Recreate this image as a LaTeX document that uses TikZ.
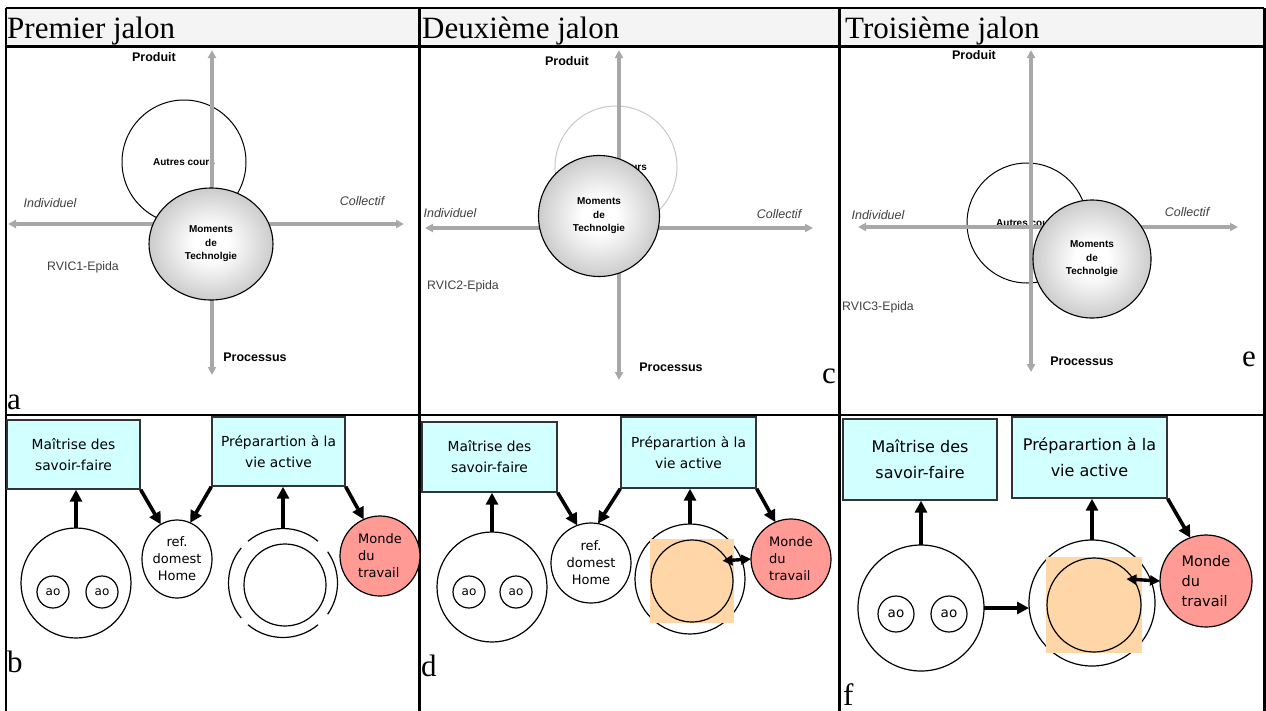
\documentclass[tikz,border=0pt]{standalone}
\usepackage{fontspec}
\setmainfont{Liberation Serif}
\setsansfont{Liberation Sans}
\newfontfamily\genevafont{DejaVu Sans}
\usetikzlibrary{arrows.meta,shapes.geometric,calc}
\definecolor{hdrF}{HTML}{F4F4F4}
\definecolor{axeG}{HTML}{A8A8A8}
\definecolor{boxF}{HTML}{D2FFFF}
\definecolor{boxD}{HTML}{333333}
\definecolor{mondeR}{HTML}{FF9A94}
\definecolor{carreO}{HTML}{FFD6A8}
\definecolor{autreG}{HTML}{C8C8C8}
\definecolor{epidaT}{HTML}{404040}
\pgfdeclareradialshading{momentshade}{\pgfpoint{0bp}{0bp}}{color(0bp)=(white); color(7bp)=(white); color(34bp)=(black!30); color(50bp)=(black!30)}
\tikzset{
  grille/.style  = {line width=2.4pt},
  titre/.style   = {font=\fontsize{31}{36}\selectfont, anchor=base west, inner sep=0pt},
  axe/.style     = {axeG, line width=3.4pt,
                    {Triangle[length=8pt,width=8pt]}-{Triangle[length=8pt,width=8pt]}},
  pole/.style    = {font=\sffamily\bfseries\fontsize{12.5}{15}\selectfont, inner sep=0pt},
  cote/.style    = {font=\sffamily\itshape\fontsize{12.5}{15}\selectfont, text=epidaT, inner sep=0pt},
  epida/.style   = {font=\sffamily\fontsize{12.3}{15}\selectfont, text=epidaT, inner sep=0pt},
  autre/.style   = {circle, draw, fill=white, line width=1pt, inner sep=0pt,
                    font=\sffamily\bfseries\fontsize{10}{12}\selectfont},
  moment/.style  = {ellipse, draw, line width=1.1pt, shading=momentshade,
                    inner sep=0pt, align=center, font=\sffamily\bfseries\fontsize{10}{13.5}\selectfont},
  savoir/.style  = {rectangle, draw=boxD, fill=boxF, line width=1.4pt, inner sep=0pt,
                    align=center, font=\genevafont\fontsize{13.8}{21}\selectfont},
  rond/.style    = {circle, draw, line width=1.2pt, inner sep=0pt, outer sep=0pt},
  ao/.style      = {rond, font=\genevafont\fontsize{12}{14}\selectfont},
  domest/.style  = {ellipse, draw, line width=1.2pt, inner sep=0pt, outer sep=0pt,
                    align=center, font=\genevafont\fontsize{13}{17}\selectfont},
  monde/.style   = {rond, fill=mondeR, align=left, font=\genevafont\fontsize{13}{17}\selectfont},
  carre/.style   = {rectangle, fill=carreO, inner sep=0pt},
  fleche/.style  = {line width=3.6pt, -{Triangle[length=12pt,width=12pt]}},
  double/.style  = {line width=3.4pt, {Triangle[length=10pt,width=10pt]}-{Triangle[length=10pt,width=10pt]}},
}
\begin{document}
\begin{tikzpicture}[x=1pt, y=-1pt]
  \useasboundingbox (0,0) rectangle (1266,710);
  % table
  \fill[hdrF] (6,8) rectangle (1264,46.5);
  \draw[grille] (6,8) -- (1264,8);
  \draw[grille] (6,46.5) -- (1264,46.5);
  \draw[grille] (6,415) -- (1264,415);
  \draw[grille] (6,8) -- (6,712);
  \draw[grille] (419.5,8) -- (419.5,712);
  \draw[grille] (839.5,8) -- (839.5,712);
  \draw[grille] (1264.5,8) -- (1264.5,712);
  \node[titre] (jalonA) at (7,38) {Premier jalon};
  \node[titre] (jalonC) at (422,38) {Deuxième jalon};
  \node[titre] (jalonE) at (845,38) {Troisième jalon};

  % a
  \node[autre, minimum size=124pt] (autresA) at (184,162) {Autres cours};
  \coordinate (aN) at (212,50);  \coordinate (aS) at (212,375);
  \coordinate (aW) at (8,224);   \coordinate (aE) at (404,224);
  \draw[axe] (aS) -- (aN);
  \draw[axe] (aW) -- (aE);
  \node[moment, minimum width=124pt, minimum height=112pt] (momentsA) at (211,244) {Moments\\de\\Technolgie};
  \node[pole] (produitA) at (154,57) {Produit};
  \node[pole] (processusA) at (255,357) {Processus};
  \node[cote] (indivA) at (50,203) {Individuel};
  \node[cote] (collA) at (362,201) {Collectif};
  \node[epida] (rvicA) at (83,267) {RVIC1-Epida};
  \node[titre] (lettreA) at (7,409) {a};

  % c
  \node[autre, draw=autreG, minimum size=122pt] (autresC) at (616,167) {Autres cours};
  \coordinate (cN) at (619,50);  \coordinate (cS) at (619,380);
  \coordinate (cW) at (425,228); \coordinate (cE) at (813,228);
  \draw[axe] (cS) -- (cN);
  \draw[axe] (cW) -- (cE);
  \node[moment, minimum size=121pt] (momentsC) at (599,216) {Moments\\de\\Technolgie};
  \node[pole] (produitC) at (567,61) {Produit};
  \node[pole] (processusC) at (671,367) {Processus};
  \node[cote] (indivC) at (450,213) {Individuel};
  \node[cote] (collC) at (779,214) {Collectif};
  \node[epida] (rvicC) at (463,286) {RVIC2-Epida};
  \node[titre] (lettreC) at (822,383) {c};

  % e
  \node[autre, minimum size=120pt] (autresE) at (1027,223) {Autres cours};
  \coordinate (eN) at (1031,50);  \coordinate (eS) at (1031,372);
  \coordinate (eW) at (858,227);  \coordinate (eE) at (1238,227);
  \draw[axe] (eS) -- (eN);
  \draw[axe] (eW) -- (eE);
  \node[moment, minimum size=118pt] (momentsE) at (1092,259) {Moments\\de\\Technolgie};
  \node[pole] (produitE) at (974,55) {Produit};
  \node[pole] (processusE) at (1082,361) {Processus};
  \node[cote] (indivE) at (878,215) {Individuel};
  \node[cote] (collE) at (1187,212) {Collectif};
  \node[epida] (rvicE) at (878,307) {RVIC3-Epida};
  \node[titre] (lettreE) at (1242,366) {e};

  % b
  \node[savoir, minimum width=133pt, minimum height=69pt] (savoirB) at (73.5,454.5) {Maîtrise des\\savoir-faire};
  \node[savoir, minimum width=133pt, minimum height=69pt] (vieB) at (278.5,451.5) {Préparartion à la\\vie active};
  \node[rond, minimum size=110pt] (grandB) at (76,583) {};
  \node[ao, minimum size=32pt] (aoB1) at (53,592) {ao};
  \node[ao, minimum size=32pt] (aoB2) at (102,592) {ao};
  \node[domest, minimum width=70pt, minimum height=78pt] (refB) at (177,559) {ref.\\domest\\Home};
  \node[rond, draw=none, minimum size=109pt] (exterB) at (283,583) {};
  \draw[line width=1.2pt] (exterB.50) arc[start angle=50, end angle=130, radius=54.5pt];
  \draw[line width=1.2pt] (exterB.140) arc[start angle=140, end angle=220, radius=54.5pt];
  \draw[line width=1.2pt] (exterB.230) arc[start angle=230, end angle=310, radius=54.5pt];
  \draw[line width=1.2pt] (exterB.-35) arc[start angle=-35, end angle=35, radius=54.5pt];
  \node[rond, minimum size=82pt] (interB) at (285,585) {};
  \node[monde, minimum size=80pt] (mondeB) at (380,556) {Monde\\du\\travail};
  \draw[fleche] (grandB.north) -- (grandB.north |- savoirB.south);
  \draw[fleche] (savoirB.south east) -- (refB.115);
  \draw[fleche] (vieB.south west) -- (refB.70);
  \draw[fleche] (exterB.north) -- (exterB.north |- vieB.south);
  \draw[fleche] (vieB.south east) -- (mondeB.114);
  \node[titre] (lettreB) at (7,672) {b};

  % d
  \node[savoir, minimum width=135pt, minimum height=70pt] (savoirD) at (489.5,457) {Maîtrise des\\savoir-faire};
  \node[savoir, minimum width=135pt, minimum height=71pt] (vieD) at (688.5,452.5) {Préparartion à la\\vie active};
  \node[rond, minimum size=110pt] (grandD) at (492,587) {};
  \node[ao, minimum size=32pt] (aoD1) at (469,592) {ao};
  \node[ao, minimum size=32pt] (aoD2) at (516,592) {ao};
  \node[rond, align=center, font=\genevafont\fontsize{13}{17}\selectfont, minimum size=80pt] (refD) at (591,563) {ref.\\domest\\Home};
  \node[rond, minimum size=110pt] (exterD) at (690,579) {};
  \node[carre, minimum size=84pt] (carreD) at (692,581) {};
  \node[rond, minimum size=82pt] (interD) at (692,581) {};
  \node[monde, minimum size=80pt] (mondeD) at (791,559) {Monde\\du\\travail};
  \draw[fleche] (grandD.north) -- (grandD.north |- savoirD.south);
  \draw[fleche] (savoirD.south east) -- (refD.110);
  \draw[fleche] (vieD.south west) -- (refD.80);
  \draw[fleche] (exterD.north) -- (exterD.north |- vieD.south);
  \draw[fleche] (vieD.south east) -- (mondeD.113);
  \draw[double, shorten <=-5pt] (interD.30) -- (mondeD.west);
  \node[titre] (lettreD) at (421,676) {d};

  % f
  \node[savoir, font=\genevafont\fontsize{16}{26}\selectfont, minimum width=154pt, minimum height=81pt] (savoirF) at (920,459.5) {Maîtrise des\\savoir-faire};
  \node[savoir, font=\genevafont\fontsize{16}{26}\selectfont, minimum width=155pt, minimum height=81pt] (vieF) at (1089.5,457.5) {Préparartion à la\\vie active};
  \node[rond, minimum size=126pt] (grandF) at (921,608) {};
  \node[ao, font=\genevafont\fontsize{13.5}{15}\selectfont, minimum size=36pt] (aoF1) at (896,614) {ao};
  \node[ao, font=\genevafont\fontsize{13.5}{15}\selectfont, minimum size=36pt] (aoF2) at (949,614) {ao};
  \node[rond, minimum size=126pt] (exterF) at (1092,603) {};
  \node[carre, minimum size=96pt] (carreF) at (1094,605) {};
  \node[rond, minimum size=94pt] (interF) at (1094,605) {};
  \node[monde, font=\genevafont\fontsize{14.5}{20}\selectfont, minimum size=92pt] (mondeF) at (1206,581) {Monde\\du\\travail};
  \draw[fleche] (grandF.north) -- (grandF.north |- savoirF.south);
  \draw[fleche] (grandF.east) -- (grandF.east -| exterF.west);
  \draw[fleche] (exterF.north) -- (exterF.north |- vieF.south);
  \draw[fleche] (vieF.south east) -- (mondeF.110);
  \draw[double, shorten <=-7pt] (interF.33) -- (mondeF.west);
  \node[titre] (lettreF) at (843,705) {f};
\end{tikzpicture}
\end{document}
